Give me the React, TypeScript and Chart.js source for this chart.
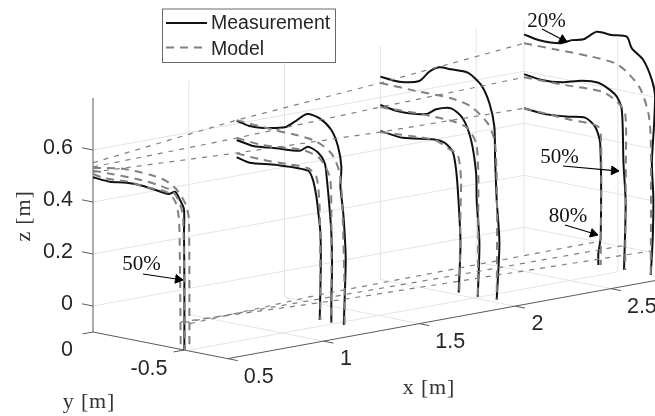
import React, { useEffect, useRef } from "react";
import { Chart, registerables } from "chart.js";

Chart.register(...registerables);

type P = number[];

// ---------- axes ----------
const X_MIN = 0.5, X_MAX = 2.75, Y_MIN = -0.74, Y_MAX = 0, Z_MIN = -0.1, Z_MAX = 0.8;
const X_TICKS = [0.5, 1, 1.5, 2, 2.5];
const Y_TICKS = [0, -0.5];
const Z_TICKS = [0, 0.2, 0.4, 0.6];
const X_TICK_LABELS = ["0.5", "1", "1.5", "2", "2.5"];
const Y_TICK_LABELS = ["0", "-0.5"];
const Z_TICK_LABELS = ["0", "0.2", "0.4", "0.6"];
const STATIONS = [0.5, 1.25, 2, 2.75];

// ---------- measured contours: [y, z] in metres ----------
const M0: P[] = [[0,.495],[-.093,.491],[-.185,.5],[-.276,.5],[-.414,.488],[-.451,.502],[-.478,.474],[-.5,.441],[-.5,.35],[-.502,.17],[-.502,-.1]];

const M1A: P[] = [[0,.611],[-.071,.601],[-.145,.604],[-.264,.623],[-.319,.652],[-.386,.691],[-.456,.684],[-.52,.648],[-.557,.589],[-.575,.514],[-.57,.437],[-.584,.349],[-.593,.262],[-.599,.159],[-.593,.004],[-.588,-.092]];
const M1B: P[] = [[0,.5375],[-.09,.527],[-.218,.536],[-.346,.544],[-.392,.566],[-.447,.551],[-.484,.515],[-.496,.452],[-.511,.339],[-.52,.252],[-.524,.123],[-.52,-.006],[-.52,-.093]];
const M1C: P[] = [[0,.471],[-.071,.46],[-.218,.472],[-.392,.474],[-.419,.442],[-.438,.38],[-.447,.33],[-.46,.244],[-.462,.114],[-.456,-.092]];

const M2A: P[] = [[0,.68],[-.104,.675],[-.214,.693],[-.269,.737],[-.324,.761],[-.388,.762],[-.48,.762],[-.553,.725],[-.599,.661],[-.626,.575],[-.63,.46],[-.639,.294],[-.654,.131],[-.639,-.09]];
const M2B: P[] = [[0,.571],[-.104,.56],[-.251,.571],[-.306,.597],[-.388,.612],[-.452,.583],[-.498,.506],[-.526,.381],[-.529,.279],[-.544,.116],[-.535,-.092]];
const M2C: P[] = [[0,.471],[-.123,.462],[-.297,.48],[-.352,.475],[-.397,.447],[-.416,.379],[-.429,.265],[-.44,.101],[-.43,-.091]];

const M3A: P[] = [[0,.742],[-.079,.731],[-.198,.735],[-.262,.756],[-.326,.768],[-.399,.807],[-.482,.806],[-.564,.811],[-.592,.77],[-.655,.734],[-.702,.664],[-.72,.602],[-.714,.492],[-.702,.344],[-.71,.216],[-.707,.062],[-.696,-.087]];
const M3B: P[] = [[0,.589],[-.097,.58],[-.207,.586],[-.317,.607],[-.408,.612],[-.473,.593],[-.509,.573],[-.537,.525],[-.546,.323],[-.558,.171],[-.549,-.088]];
const M3C: P[] = [[0,.4575],[-.115,.451],[-.243,.459],[-.335,.468],[-.39,.441],[-.418,.381],[-.421,.022],[-.408,-.044],[-.408,-.089]];

// ---------- model contours: [y, z] in metres ----------
const D0A: P[] = [[0,.531],[-.154,.55],[-.319,.548],[-.401,.537],[-.462,.51],[-.511,.459],[-.527,.404],[-.53,-.096]];
const D0B: P[] = [[0,.52],[-.101,.522],[-.247,.522],[-.357,.515],[-.44,.5],[-.476,.461],[-.495,.412],[-.505,-.099]];
const D0C: P[] = [[0,.508],[-.064,.5],[-.192,.505],[-.284,.498],[-.412,.493],[-.452,.464],[-.471,.409],[-.476,.32],[-.482,-.102]];

const D1A: P[] = [[0,.614],[-.218,.604],[-.328,.602],[-.438,.592],[-.52,.558],[-.566,.488],[-.581,.349],[-.593,.031],[-.593,-.092]];
const D1B: P[] = [[0,.545],[-.145,.538],[-.364,.549],[-.456,.53],[-.511,.467],[-.52,.34],[-.52,-.093]];
const D1C: P[] = [[0,.486],[-.145,.481],[-.291,.484],[-.392,.483],[-.438,.457],[-.456,.331],[-.46,-.091]];

const D2A: P[] = [[0,.656],[-.214,.652],[-.388,.651],[-.498,.634],[-.59,.582],[-.63,.511],[-.641,.256],[-.639,-.09]];
const D2B: P[] = [[0,.563],[-.196,.567],[-.297,.567],[-.407,.563],[-.48,.548],[-.526,.497],[-.538,.383],[-.538,.242],[-.535,-.092]];
const D2C: P[] = [[0,.467],[-.297,.478],[-.37,.456],[-.425,.438],[-.443,.344],[-.44,.228],[-.434,-.091]];

const D3A: P[] = [[0,.7075],[-.188,.708],[-.372,.7075],[-.5,.7],[-.564,.676],[-.637,.623],[-.683,.533],[-.696,.432],[-.696,-.087]];
const D3B: P[] = [[0,.577],[-.225,.578],[-.427,.581],[-.509,.554],[-.555,.516],[-.559,.324],[-.555,-.0875]];
const D3C: P[] = [[0,.4575],[-.243,.449],[-.408,.443],[-.423,.381],[-.423,.125],[-.421,-.087]];

// ---------- model edges running along x ----------
const EDGE_Z_HIGH = [.551, .614, .656, .7075];
const EDGE_Z_MID = [.535, .545, .563, .577];
const EDGE_Z_LOW = [.515, .4875, .467, .4575];
const FLOOR_Y_A = [-.533, -.456, -.44, -.423];
const FLOOR_Y_B = [-.5, -.52, -.538, -.549];
const FLOOR_Y_C = [-.4835, -.588, -.643, -.7];
const FLOOR_Z = 0.006;

const MEASURED = [M0, M1A, M1B, M1C, M2A, M2B, M2C, M3A, M3B, M3C];
const MEASURED_X = [0, 1, 1, 1, 2, 2, 2, 3, 3, 3];
const MODEL = [D0A, D0B, D0C, D1A, D1B, D1C, D2A, D2B, D2C, D3A, D3B, D3C];
const MODEL_X = [0, 0, 0, 1, 1, 1, 2, 2, 2, 3, 3, 3];

// ---------- annotations (figure coordinates) ----------
const NOTE_TEXT = ["50%", "20%", "50%", "80%"];
const NOTE_AT: P[] = [[141.5, 264], [546.5, 21], [559.5, 157], [568, 216]];
const ARROW_FROM: P[] = [[143, 274], [542, 29], [563, 166], [565, 225]];
const ARROW_TO: P[] = [[183, 280], [567, 42], [619, 171], [598, 235]];

const SERIES_NAMES = ["Measurement", "Model"];

// ---------- orthographic view ----------
const project = (x: number, y: number, z: number) => ({
  x: 93 + 191.6 * (x - X_MIN) - 182 * y,
  y: 332 - 35 * (x - X_MIN) - 36 * y - 260 * (z - Z_MIN),
});
const line3 = (pts: number[][]) => pts.map((p) => project(p[0], p[1], p[2]));

const GRID = "#e4e4e4";
const AXIS = "#5a5a5a";
const INK = "#262626";
const BLACK = "#111111";
const GREY = "#808080";

function buildDatasets() {
  const ds: any[] = [];
  const seg = (pts: number[][], color: string, width: number, order: number) =>
    ds.push({ data: line3(pts), borderColor: color, borderWidth: width, pointRadius: 0, showLine: true, tension: 0, order });

  const GRID_Y = -0.515; // y=-0.5 grid line as it falls on the picture
  // back wall & right wall, z lines
  for (const z of Z_TICKS) {
    seg([[X_MIN, 0, z], [X_MAX, 0, z]], GRID, 1, 20);
    seg([[X_MAX, 0, z], [X_MAX, Y_MIN, z]], GRID, 1, 20);
  }
  // x grid lines
  for (const x of X_TICKS.slice(1)) {
    seg([[x, 0, Z_MIN], [x, 0, Z_MAX]], GRID, 1, 20);
    seg([[x, 0, Z_MIN], [x, Y_MIN, Z_MIN]], GRID, 1, 20);
  }
  // y grid lines
  seg([[X_MIN, GRID_Y, Z_MIN], [X_MAX, GRID_Y, Z_MIN]], GRID, 1, 20);
  seg([[X_MAX, GRID_Y, Z_MIN], [X_MAX, GRID_Y, Z_MAX]], GRID, 1, 20);
  seg([[X_MAX, 0, Z_MIN], [X_MAX, 0, Z_MAX]], GRID, 1, 20);

  // axes
  seg([[X_MIN, 0, Z_MIN], [X_MIN, 0, Z_MAX]], AXIS, 1, 15);
  seg([[X_MIN, 0, Z_MIN], [X_MIN, Y_MIN, Z_MIN]], AXIS, 1, 15);
  seg([[X_MIN, Y_MIN, Z_MIN], [X_MAX, Y_MIN, Z_MIN]], AXIS, 1, 15);
  for (const z of Z_TICKS) seg([[X_MIN, 0, z], [X_MIN, 0.06, z]], AXIS, 1, 15);
  for (const y of Y_TICKS) seg([[X_MIN, y, Z_MIN], [X_MIN - 0.055, y, Z_MIN]], AXIS, 1, 15);
  for (const x of X_TICKS) seg([[x, Y_MIN, Z_MIN], [x, Y_MIN - 0.055, Z_MIN]], AXIS, 1, 15);

  // measurement
  MEASURED.forEach((c, i) => {
    ds.push({
      label: SERIES_NAMES[0],
      data: line3(c.map((p) => [STATIONS[MEASURED_X[i]], p[0], p[1]])),
      borderColor: BLACK, borderWidth: 2, pointRadius: 0, showLine: true, tension: 0.25, order: 8,
    });
  });
  // model
  MODEL.forEach((c, i) => {
    ds.push({
      label: SERIES_NAMES[1],
      data: line3(c.map((p) => [STATIONS[MODEL_X[i]], p[0], p[1]])),
      borderColor: GREY, borderWidth: 2, borderDash: [8, 6], pointRadius: 0, showLine: true, tension: 0.25, order: 6,
    });
  });
  // thin model edges
  for (const zs of [EDGE_Z_HIGH, EDGE_Z_MID, EDGE_Z_LOW]) {
    ds.push({
      data: line3(zs.map((z, i) => [STATIONS[i], 0, z])),
      borderColor: GREY, borderWidth: 1.2, borderDash: [5, 6], pointRadius: 0, showLine: true, tension: 0, order: 7,
    });
  }
  for (const ys of [FLOOR_Y_A, FLOOR_Y_B, FLOOR_Y_C]) {
    ds.push({
      data: line3(ys.map((y, i) => [STATIONS[i], y, FLOOR_Z])),
      borderColor: GREY, borderWidth: 1.2, borderDash: [5, 6], pointRadius: 0, showLine: true, tension: 0, order: 7,
    });
  }
  // annotation arrows
  ARROW_FROM.forEach((a, i) => {
    const b = ARROW_TO[i];
    const dx = b[0] - a[0], dy = b[1] - a[1];
    const len = Math.hypot(dx, dy);
    const r = 5;
    const head = { x: b[0] - (dx / len) * r, y: b[1] - (dy / len) * r };
    ds.push({
      data: [{ x: a[0], y: a[1] }, head],
      borderColor: "#000", backgroundColor: "#000", borderWidth: 1.2, showLine: true, tension: 0, order: 1,
      pointStyle: "triangle",
      pointRadius: [0, r],
      pointRotation: [0, (Math.atan2(dx, -dy) * 180) / Math.PI],
      pointBorderWidth: 1,
      pointBackgroundColor: "#000",
      pointBorderColor: "#000",
    });
  });
  return ds;
}

const labelsPlugin = {
  id: "labels3d",
  afterDatasetsDraw(chart: any) {
    const ctx: CanvasRenderingContext2D = chart.ctx;
    const sx = chart.scales.x, sy = chart.scales.y;
    const px = (v: number) => sx.getPixelForValue(v);
    const py = (v: number) => sy.getPixelForValue(v);
    ctx.save();
    ctx.textBaseline = "middle";

    // tick labels
    ctx.fillStyle = INK;
    ctx.font = '21.5px "Liberation Sans", Arial, sans-serif';
    ctx.textAlign = "right";
    Z_TICKS.forEach((z, i) => {
      const p = project(X_MIN, 0, z);
      ctx.fillText(Z_TICK_LABELS[i], px(p.x - 20), py(p.y - 2));
    });
    ctx.textAlign = "center";
    Y_TICKS.forEach((y, i) => {
      const p = project(X_MIN, y, Z_MIN);
      ctx.fillText(Y_TICK_LABELS[i], px(p.x + (i === 0 ? -26 : -35)), py(p.y + (i === 0 ? 18 : 19)));
    });
    X_TICKS.forEach((x, i) => {
      const p = project(x, Y_MIN, Z_MIN);
      const shift = X_TICK_LABELS[i].length === 1 ? 22.5 : 31;
      ctx.fillText(X_TICK_LABELS[i], px(p.x + shift), py(p.y + 18));
    });

    // axis labels
    ctx.font = '22px "Liberation Serif", serif';
    ctx.fillStyle = "#333";
    (ctx as any).letterSpacing = "0.8px";
    ctx.fillText("x [m]", px(429), py(388));
    ctx.fillText("y [m]", px(89), py(402));
    ctx.save();
    ctx.translate(px(24), py(216));
    ctx.rotate(-Math.PI / 2);
    ctx.fillText("z [m]", 0, 0);
    ctx.restore();
    (ctx as any).letterSpacing = "0px";

    // notes
    ctx.font = '21px "Liberation Serif", serif';
    ctx.fillStyle = "#111";
    NOTE_TEXT.forEach((t, i) => ctx.fillText(t, px(NOTE_AT[i][0]), py(NOTE_AT[i][1])));

    // legend
    const L = px(162), T = py(8.5), R = px(335), B = py(62);
    ctx.fillStyle = "#fff";
    ctx.fillRect(L, T, R - L, B - T);
    ctx.strokeStyle = "#6a6a6a";
    ctx.lineWidth = 1;
    ctx.strokeRect(L + 0.5, T + 0.5, R - L, B - T);
    ctx.strokeStyle = BLACK;
    ctx.lineWidth = 2;
    ctx.beginPath(); ctx.moveTo(px(166), py(23)); ctx.lineTo(px(207), py(23)); ctx.stroke();
    ctx.strokeStyle = GREY;
    ctx.setLineDash([8, 6]);
    ctx.beginPath(); ctx.moveTo(px(166), py(47.5)); ctx.lineTo(px(207), py(47.5)); ctx.stroke();
    ctx.setLineDash([]);
    ctx.fillStyle = INK;
    ctx.textAlign = "left";
    ctx.font = '19.5px "Liberation Sans", Arial, sans-serif';
    ctx.fillText(SERIES_NAMES[0], px(211), py(24));
    ctx.fillText(SERIES_NAMES[1], px(211), py(49.5));
    ctx.restore();
  },
};

export default function App() {
  const ref = useRef<HTMLCanvasElement>(null);
  useEffect(() => {
    const chart = new Chart(ref.current as HTMLCanvasElement, {
      type: "scatter",
      data: { datasets: buildDatasets() },
      options: {
        animation: false,
        responsive: false,
        layout: { padding: 0, autoPadding: false },
        plugins: { legend: { display: false }, tooltip: { enabled: false } },
        scales: {
          x: { type: "linear", min: 0, max: 655, display: false },
          y: { type: "linear", min: 0, max: 416, reverse: true, display: false },
        },
      },
      plugins: [labelsPlugin],
    } as any);
    return () => chart.destroy();
  }, []);
  return (
    <div style={{ position: "fixed", left: 0, top: 0, width: 655, height: 416, background: "#fff" }}>
      <canvas ref={ref} width={655} height={416} style={{ display: "block", filter: "blur(0.45px)" }} />
    </div>
  );
}
